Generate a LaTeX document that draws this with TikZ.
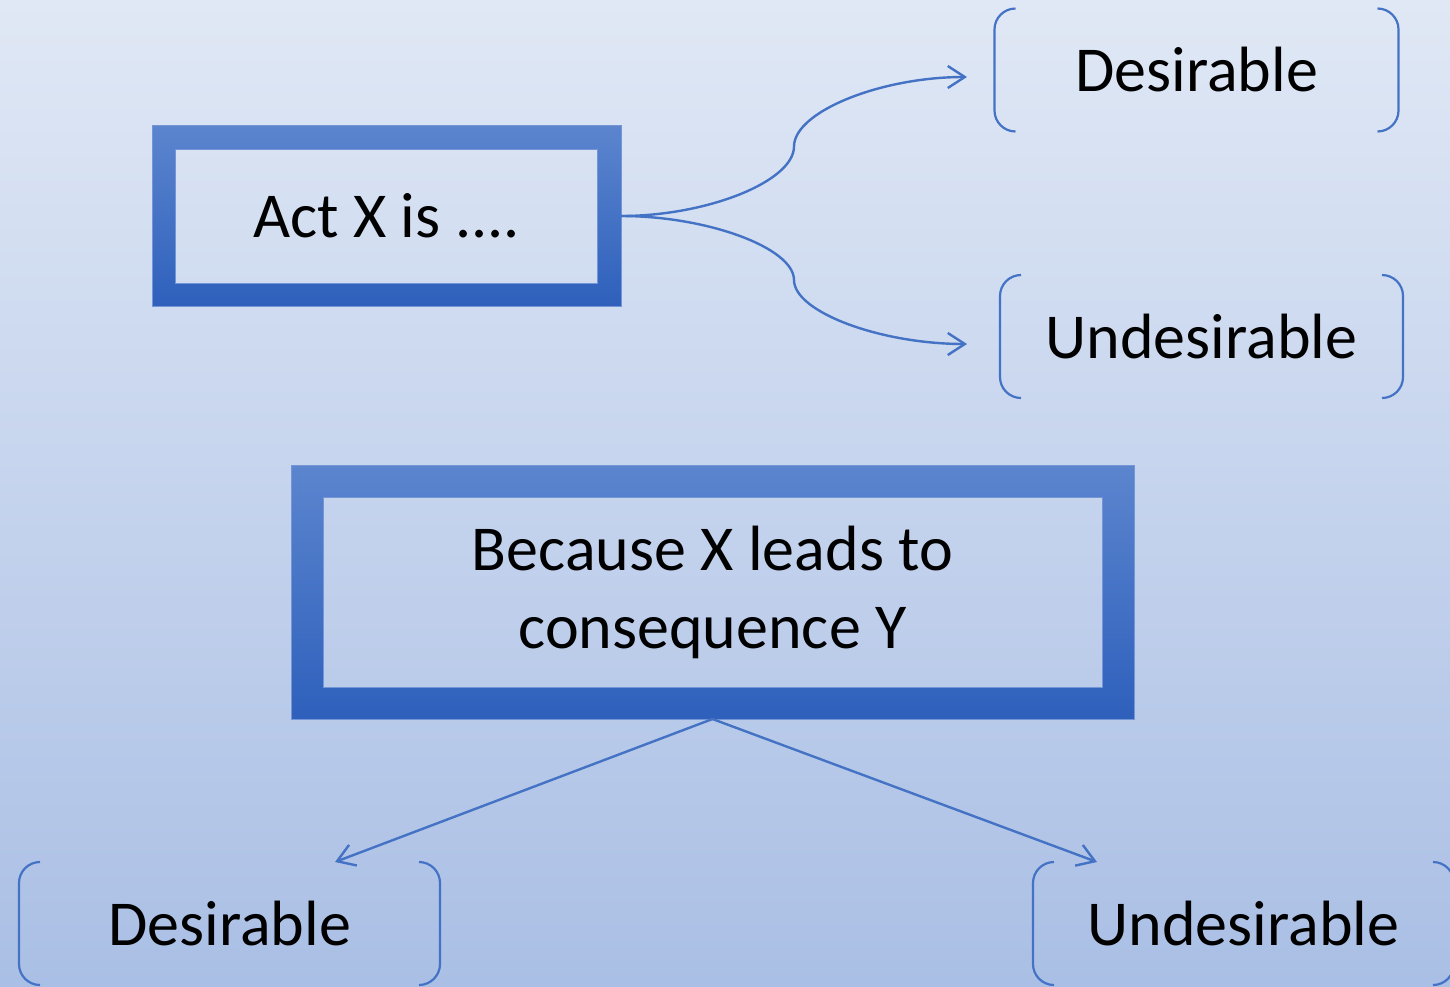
\documentclass[tikz,border=0pt]{standalone}
\usepackage{fontspec}
\setmainfont{Carlito}
\usetikzlibrary{arrows.meta,calc}

\definecolor{bgtop}{HTML}{E0E8F5}
\definecolor{bgbot}{HTML}{AABFE5}
\definecolor{frametop}{HTML}{5C85CE}
\definecolor{framebot}{HTML}{2E60BC}
\definecolor{frameline}{HTML}{7496D6}
\definecolor{linkblue}{HTML}{4472C4}

\begin{document}
\begin{tikzpicture}[x=1pt,y=-1pt,
  every node/.style={font=\fontsize{64}{78}\selectfont, inner sep=0pt},
  thickbox/.style={rectangle, align=center},
  choice/.style={rectangle, outer sep=0pt, minimum height=123pt},
  link/.style={draw=linkblue, line width=2.4pt, -{Straight Barb[length=17pt,width=22pt]}},
  brk/.style={draw=linkblue, line width=2.2pt, rounded corners=21pt}]

  \path[use as bounding box] (0,0) rectangle (1450,986);
  \clip (0,0) rectangle (1450,986);
  \shade[top color=bgtop, bottom color=bgbot] (0,0) rectangle (1450,986);

  \node[thickbox, minimum width=422pt, minimum height=134pt, outer sep=23.5pt]
    (act) at (386.5,216) {Act X is ....};
  \node[thickbox, minimum width=779pt, minimum height=190pt, outer sep=32pt]
    (cause) at (712.5,592) {Because X leads to\\consequence Y};

  \node[choice, minimum width=404pt] (ds1) at (1196.5,70) {Desirable};
  \node[choice, minimum width=403pt] (un1) at (1201.5,336.5) {Undesirable};
  \node[choice, minimum width=421pt] (ds2) at (229.5,923.5) {Desirable};
  \node[choice, minimum width=421pt] (un2) at (1243.5,923.5) {Undesirable};

  % thick frames with a top to bottom shading
  \foreach \n/\b in {act/23.5pt, cause/32pt} {
    \shade[top color=frametop, bottom color=framebot, even odd rule]
      (\n.north west) rectangle (\n.south east)
      ([shift={(\b,-\b)}]\n.north west) rectangle ([shift={(-\b,\b)}]\n.south east);
    \draw[frameline, line width=0.8pt] (\n.north west) rectangle (\n.south east)
      ([shift={(\b,-\b)}]\n.north west) rectangle ([shift={(-\b,\b)}]\n.south east);
  }

  % bracket sides of the answers
  \foreach \n in {ds1,un1,ds2,un2} {
    \draw[brk] ([xshift=21pt]\n.north west) -- (\n.north west)
      -- (\n.south west) -- ([xshift=21pt]\n.south west);
    \draw[brk] ([xshift=-21pt]\n.north east) -- (\n.north east)
      -- (\n.south east) -- ([xshift=-21pt]\n.south east);
  }

  \coordinate (tipD) at ([shift={(-27.5pt,-7pt)}]ds1.west);
  \coordinate (tipU) at ([shift={(-33pt,-7.5pt)}]un1.west);

  \draw[link] (act.east) .. controls +(86.5,0) and +(0,34.75) .. ($(act.east)!.5!(tipD)$)
    .. controls +(0,-34.75) and +(-86.5,0) .. (tipD);
  \draw[link] (act.east) .. controls +(86.5,0) and +(0,-32) .. ($(act.east)!.5!(tipU)$)
    .. controls +(0,32) and +(-86.5,0) .. (tipU);

  \draw[link] (cause.south) -- ([xshift=105.5pt]ds2.north);
  \draw[link] (cause.south) -- ([xshift=-146.5pt]un2.north);
\end{tikzpicture}
\end{document}
